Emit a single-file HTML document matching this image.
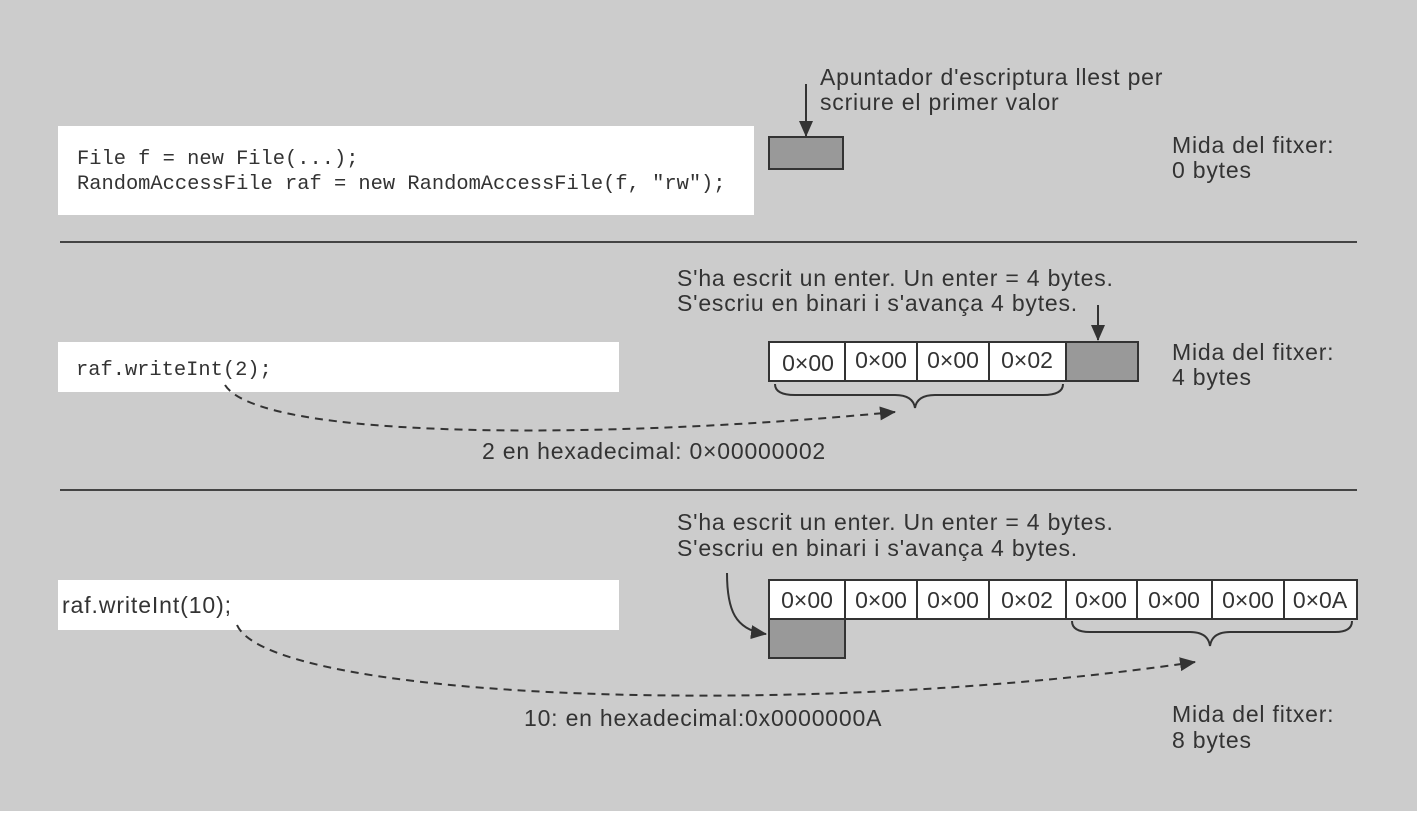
<!DOCTYPE html>
<html><head><meta charset="utf-8"><style>
html,body{margin:0;padding:0;background:#ccc;}
svg{display:block}
.s{font-family:"Liberation Sans",sans-serif;font-size:23px;letter-spacing:0.8px;fill:#333}
.m{font-family:"Liberation Mono",monospace;font-size:20.4px;fill:#333}
.c{font-family:"Liberation Sans",sans-serif;font-size:23px;fill:#333;text-anchor:middle}
</style></head><body>
<svg width="1417" height="814" viewBox="0 0 1417 814">
<defs>
<marker id="b" markerWidth="16" markerHeight="14" refX="15" refY="7" orient="auto" markerUnits="userSpaceOnUse"><path d="M0,0 L16,7 L0,14Z" fill="#333"/></marker></defs>
<rect width="1417" height="814" fill="#ccc"/>
<rect x="58" y="126" width="696" height="89" fill="#fff"/>
<text class="m" x="77" y="164">File f = new File(...);</text>
<text class="m" x="77" y="189">RandomAccessFile raf = new RandomAccessFile(f, "rw");</text>
<rect x="769" y="137" width="74" height="32" fill="#999" stroke="#333" stroke-width="2"/>
<line x1="806" y1="84" x2="806" y2="136" stroke="#333" stroke-width="2" marker-end="url(#b)"/>
<text class="s" x="820" y="85">Apuntador d'escriptura llest per</text>
<text class="s" x="820" y="110">scriure el primer valor</text>
<text class="s" x="1172" y="153">Mida del fitxer:</text>
<text class="s" x="1172" y="178">0 bytes</text>
<line x1="60" y1="242" x2="1357" y2="242" stroke="#444" stroke-width="2"/>
<rect x="58" y="342" width="561" height="50" fill="#fff"/>
<text class="m" x="76" y="375">raf.writeInt(2);</text>
<text class="s" x="677" y="286">S'ha escrit un enter. Un enter = 4 bytes.</text>
<text class="s" x="677" y="311">S'escriu en binari i s'avança 4 bytes.</text>
<g stroke="#333" stroke-width="2" fill="#fff">
<rect x="769" y="342" width="76" height="39"/><rect x="845" y="342" width="72" height="39"/><rect x="917" y="342" width="72" height="39"/><rect x="989" y="342" width="77" height="39"/>
<rect x="1066" y="342" width="72" height="39" fill="#999"/></g>
<text class="c" x="808" y="371">0×00</text><text class="c" x="881" y="368">0×00</text><text class="c" x="953" y="368">0×00</text><text class="c" x="1027" y="368">0×02</text>
<line x1="1098" y1="305" x2="1098" y2="340" stroke="#333" stroke-width="2" marker-end="url(#b)"/>
<path d="M775,384 Q775,395 795,395 L895,395 Q913,395 915,408 Q917,395 935,395 L1043,395 Q1063,395 1063,384" fill="none" stroke="#333" stroke-width="2"/>
<path d="M225,385 C260,440 600,440 895,412" fill="none" stroke="#333" stroke-width="2" stroke-dasharray="8,6" marker-end="url(#b)"/>
<text class="s" x="482" y="459">2 en hexadecimal: 0×00000002</text>
<text class="s" x="1172" y="360">Mida del fitxer:</text>
<text class="s" x="1172" y="385">4 bytes</text>
<line x1="60" y1="490" x2="1357" y2="490" stroke="#444" stroke-width="2"/>
<rect x="58" y="580" width="561" height="50" fill="#fff"/>
<text class="s" x="62" y="613" style="letter-spacing:0.9px">raf.writeInt(10);</text>
<text class="s" x="677" y="530">S'ha escrit un enter. Un enter = 4 bytes.</text>
<text class="s" x="677" y="556">S'escriu en binari i s'avança 4 bytes.</text>
<g stroke="#333" stroke-width="2" fill="#fff">
<rect x="769" y="580" width="76" height="39"/><rect x="845" y="580" width="72" height="39"/><rect x="917" y="580" width="72" height="39"/><rect x="989" y="580" width="77" height="39"/>
<rect x="1066" y="580" width="71" height="39"/><rect x="1137" y="580" width="75" height="39"/><rect x="1212" y="580" width="72" height="39"/><rect x="1284" y="580" width="73" height="39"/>
<rect x="769" y="619" width="76" height="39" fill="#999"/></g>
<text class="c" x="807" y="608">0×00</text><text class="c" x="881" y="608">0×00</text><text class="c" x="953" y="608">0×00</text><text class="c" x="1027" y="608">0×02</text>
<text class="c" x="1101" y="608">0×00</text><text class="c" x="1174" y="608">0×00</text><text class="c" x="1248" y="608">0×00</text><text class="c" x="1320" y="608">0×0A</text>
<path d="M727,573 C727,610 735,630 766,634" fill="none" stroke="#333" stroke-width="2" marker-end="url(#b)"/>
<path d="M1072,621 Q1072,632 1090,632 L1190,632 Q1208,632 1210,646 Q1212,632 1230,632 L1335,632 Q1352,632 1352,621" fill="none" stroke="#333" stroke-width="2"/>
<path d="M237,625 C270,700 800,720 1195,662" fill="none" stroke="#333" stroke-width="2" stroke-dasharray="8,6" marker-end="url(#b)"/>
<text class="s" x="524" y="726">10: en hexadecimal:0x0000000A</text>
<text class="s" x="1172" y="722">Mida del fitxer:</text>
<text class="s" x="1172" y="748">8 bytes</text>
<rect x="0" y="811" width="1417" height="3" fill="#fff"/>
</svg>
</body></html>
